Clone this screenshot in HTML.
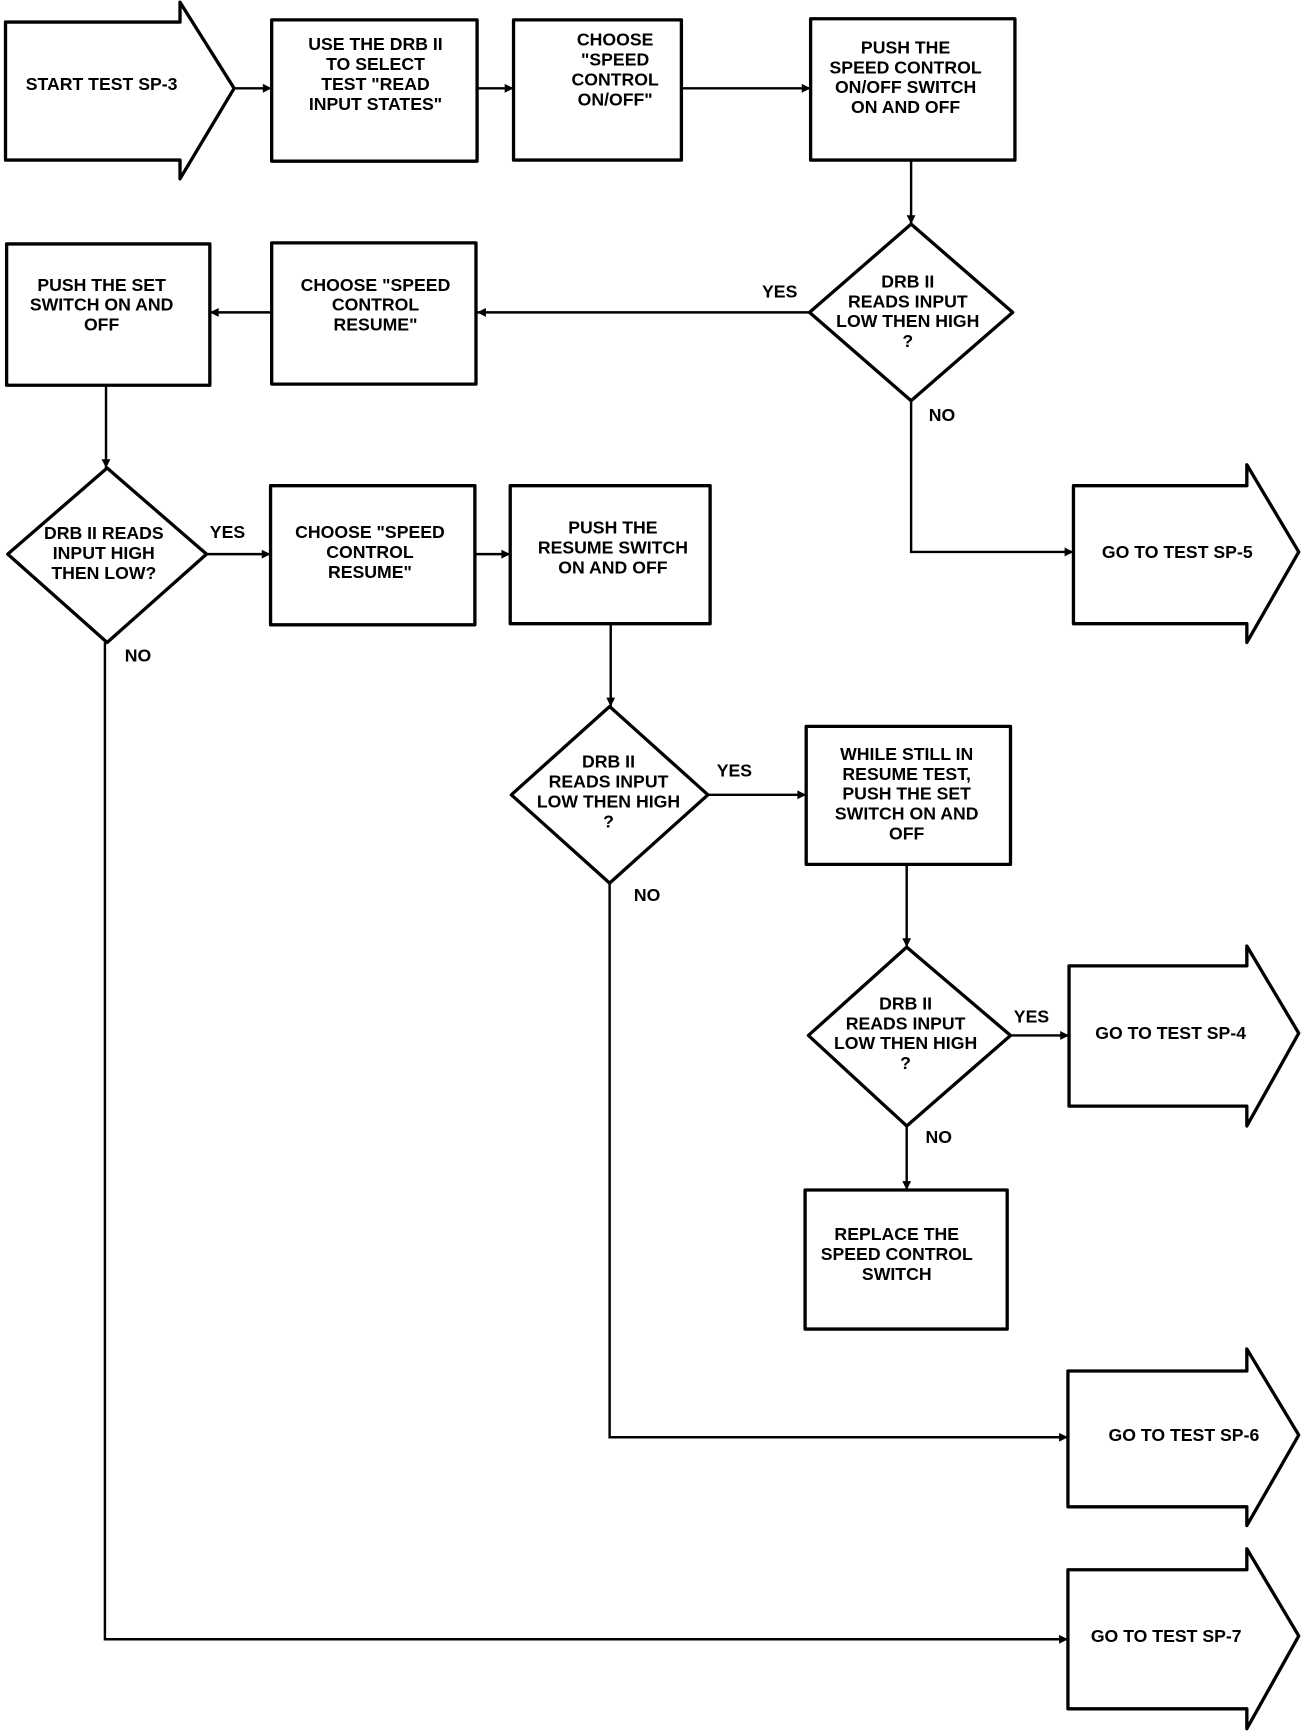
<!DOCTYPE html>
<html><head><meta charset="utf-8"><style>
html,body{margin:0;padding:0;background:#fff;}
svg{display:block;}
text{font-family:"Liberation Sans",sans-serif;font-weight:bold;font-size:16px;fill:#000;text-anchor:middle;dominant-baseline:central;}
.s{fill:#fff;stroke:#000;stroke-width:3;stroke-linejoin:round;}
.l{fill:none;stroke:#000;stroke-width:2.2;}
.a{fill:#000;}
</style></head><body>
<svg width="1312" height="1732" viewBox="0 0 1188 1569" preserveAspectRatio="none" xmlns="http://www.w3.org/2000/svg">
<!-- connectors -->
<path class="l" d="M212 80H246 M432 80H465 M617 80H734 M825 145V203 M733 283H432 M246 283H190 M825 363V500H972 M96 349V424 M187 502H245 M430 502H462 M553 565V640 M641 720H730 M821 783V858 M915 938H968 M821 1020V1078 M552 800V1302H967 M95 582V1485H967"/>
<!-- arrowheads -->
<g class="a">
<path d="M246 80l-8-4v8z"/><path d="M465 80l-8-4v8z"/><path d="M734 80l-8-4v8z"/>
<path d="M825 203l-4-8h8z"/><path d="M432 283l8-4v8z"/><path d="M190 283l8-4v8z"/>
<path d="M972 500l-8-4v8z"/><path d="M96 424l-4-8h8z"/><path d="M245 502l-8-4v8z"/>
<path d="M462 502l-8-4v8z"/><path d="M553 640l-4-8h8z"/><path d="M730 720l-8-4v8z"/>
<path d="M821 858l-4-8h8z"/><path d="M968 938l-8-4v8z"/><path d="M821 1078l-4-8h8z"/>
<path d="M967 1302l-8-4v8z"/><path d="M967 1485l-8-4v8z"/>
</g>
<!-- start arrow -->
<polygon class="s" points="5,20 163,20 163,2 212,80 163,162 163,145 5,145"/>
<text x="92" y="76">START TEST SP-3</text>
<rect class="s" x="246" y="18" width="186" height="128"/>
<text x="340" y="40">USE THE DRB II</text><text x="340" y="58">TO SELECT</text><text x="340" y="76">TEST "READ</text><text x="340" y="94">INPUT STATES"</text>
<rect class="s" x="465" y="18" width="152" height="127"/>
<text x="557" y="36">CHOOSE</text><text x="557" y="54">"SPEED</text><text x="557" y="72">CONTROL</text><text x="557" y="90">ON/OFF"</text>
<rect class="s" x="734" y="17" width="185" height="128"/>
<text x="820" y="43">PUSH THE</text><text x="820" y="61">SPEED CONTROL</text><text x="820" y="79">ON/OFF SWITCH</text><text x="820" y="97">ON AND OFF</text>
<polygon class="s" points="825,203 917,283 825,363 733,283"/>
<text x="822" y="255">DRB II</text><text x="822" y="273">READS INPUT</text><text x="822" y="291">LOW THEN HIGH</text><text x="822" y="309">?</text>
<text x="706" y="264">YES</text><text x="853" y="376">NO</text>
<rect class="s" x="246" y="220" width="185" height="128"/>
<text x="340" y="258">CHOOSE "SPEED</text><text x="340" y="276">CONTROL</text><text x="340" y="294">RESUME"</text>
<rect class="s" x="6" y="221" width="184" height="128"/>
<text x="92" y="258">PUSH THE SET</text><text x="92" y="276">SWITCH ON AND</text><text x="92" y="294">OFF</text>
<polygon class="s" points="972,440 1129,440 1129,421 1176,500 1129,582 1129,565 972,565"/>
<text x="1066" y="500">GO TO TEST SP-5</text>
<polygon class="s" points="97,424 187,502 97,582 7,502"/>
<text x="94" y="483">DRB II READS</text><text x="94" y="501">INPUT HIGH</text><text x="94" y="519">THEN LOW?</text>
<text x="206" y="482">YES</text><text x="125" y="594">NO</text>
<rect class="s" x="245" y="440" width="185" height="126"/>
<text x="335" y="482">CHOOSE "SPEED</text><text x="335" y="500">CONTROL</text><text x="335" y="518">RESUME"</text>
<rect class="s" x="462" y="440" width="181" height="125"/>
<text x="555" y="478">PUSH THE</text><text x="555" y="496">RESUME SWITCH</text><text x="555" y="514">ON AND OFF</text>
<polygon class="s" points="552,640 641,720 552,800 463,720"/>
<text x="551" y="690">DRB II</text><text x="551" y="708">READS INPUT</text><text x="551" y="726">LOW THEN HIGH</text><text x="551" y="744">?</text>
<text x="665" y="698">YES</text><text x="586" y="811">NO</text>
<rect class="s" x="730" y="658" width="185" height="125"/>
<text x="821" y="683">WHILE STILL IN</text><text x="821" y="701">RESUME TEST,</text><text x="821" y="719">PUSH THE SET</text><text x="821" y="737">SWITCH ON AND</text><text x="821" y="755">OFF</text>
<polygon class="s" points="821,858 915,938 821,1020 732,938"/>
<text x="820" y="909">DRB II</text><text x="820" y="927">READS INPUT</text><text x="820" y="945">LOW THEN HIGH</text><text x="820" y="963">?</text>
<text x="934" y="921">YES</text><text x="850" y="1030">NO</text>
<polygon class="s" points="968,875 1129,875 1129,857 1176,936 1129,1020 1129,1002 968,1002"/>
<text x="1060" y="936">GO TO TEST SP-4</text>
<rect class="s" x="729" y="1078" width="183" height="126"/>
<text x="812" y="1118">REPLACE THE</text><text x="812" y="1136">SPEED CONTROL</text><text x="812" y="1154">SWITCH</text>
<polygon class="s" points="967,1242 1129,1242 1129,1222 1176,1300 1129,1382 1129,1365 967,1365"/>
<text x="1072" y="1300">GO TO TEST SP-6</text>
<polygon class="s" points="967,1422 1129,1422 1129,1403 1176,1482 1129,1566 1129,1548 967,1548"/>
<text x="1056" y="1482">GO TO TEST SP-7</text>
</svg>
</body></html>
